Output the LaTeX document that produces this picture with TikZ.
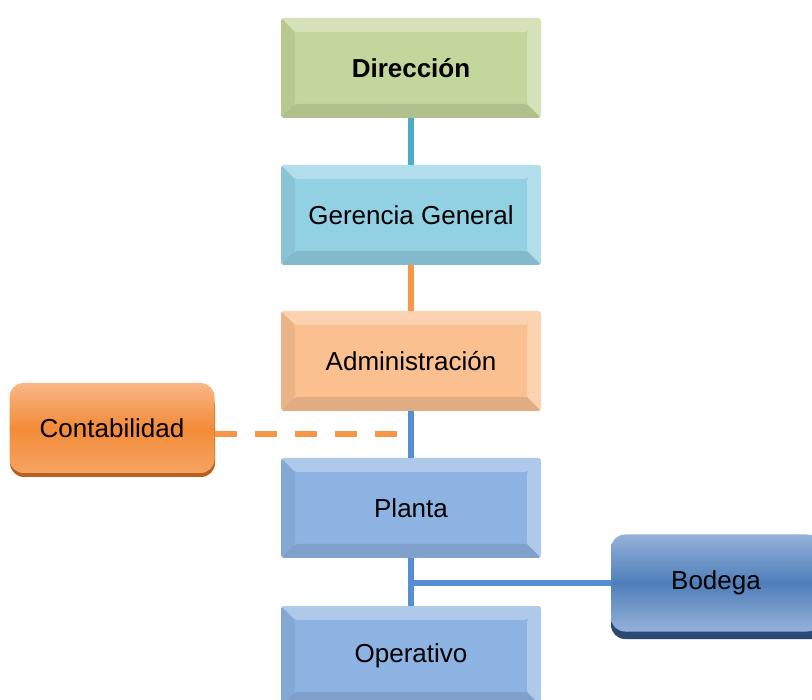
\documentclass[tikz,border=0pt]{standalone}
\usepackage{fontspec}
\setmainfont{Liberation Sans}
\usetikzlibrary{positioning,calc}
\definecolor{dirgreen}{HTML}{C3D69B}
\definecolor{gerblue}{HTML}{92D0E3}
\definecolor{admorange}{HTML}{FAC090}
\definecolor{plablue}{HTML}{8DB3E2}
\definecolor{lnteal}{HTML}{4BACC6}
\definecolor{lnorange}{HTML}{F79646}
\definecolor{lnblue}{HTML}{558ED5}
\definecolor{conttop}{HTML}{F9B787}
\definecolor{contmid}{HTML}{F28B38}
\definecolor{contbot}{HTML}{F6A463}
\definecolor{contdark}{HTML}{B9611C}
\definecolor{bodtop}{HTML}{94B2D8}
\definecolor{bodmid}{HTML}{4F7FBA}
\definecolor{boddark}{HTML}{294A72}
\tikzset{font=\fontsize{26}{30}\selectfont}
\tikzset{bevelbox/.style={rectangle,rounded corners=3pt,inner sep=0pt,
    minimum width=260pt,minimum height=100pt,fill=#1,
    path picture={
      \path (path picture bounding box.north west) coordinate (bnw)
            (path picture bounding box.north east) coordinate (bne)
            (path picture bounding box.south west) coordinate (bsw)
            (path picture bounding box.south east) coordinate (bse);
      \fill[white,opacity=.3] (bnw)--(bne)--($(bne)+(-14pt,-14pt)$)--($(bnw)+(14pt,-14pt)$)--cycle;
      \fill[white,opacity=.3] (bne)--(bse)--($(bse)+(-14pt,14pt)$)--($(bne)+(-14pt,-14pt)$)--cycle;
      \fill[black,opacity=.06] (bnw)--(bsw)--($(bsw)+(14pt,14pt)$)--($(bnw)+(14pt,-14pt)$)--cycle;
      \fill[black,opacity=.1] (bsw)--(bse)--($(bse)+(-14pt,14pt)$)--($(bsw)+(14pt,14pt)$)--cycle;
    }}}
\tikzset{sidebox/.style={rectangle,rounded corners=14pt,inner sep=0pt,
    minimum width=205pt,minimum height=90pt}}
\tikzset{link/.style={line width=6pt}}

\begin{document}
\begin{tikzpicture}[x=1pt,y=-1pt]
  \clip (0,0) rectangle (812,700);
  \node[bevelbox=dirgreen] (dir) at (411,68) {\textbf{Dirección}};
  \node[bevelbox=gerblue] (ger) at (411,215) {Gerencia General};
  \node[bevelbox=admorange] (adm) at (411,361) {Administración};
  \node[bevelbox=plablue] (pla) at (411,508) {Planta};
  \node[bevelbox=plablue] (ope) at (411,656) {Operativo};
  % side boxes, with a dark edge below
  \fill[contdark,rounded corners=14pt] (10,392) rectangle (215,477);
  \node[sidebox,top color=conttop,bottom color=contbot,middle color=contmid]
    (cont) at (112,428) {Contabilidad};
  \fill[boddark,rounded corners=14pt] (611,546) rectangle (830,639);
  \node[sidebox,minimum width=210pt,minimum height=97pt,top color=bodtop,
    bottom color=bodtop,middle color=bodmid]
    (bod) at (716,583) {Bodega};
  \draw[link,lnteal] (dir) -- (ger);
  \draw[link,lnorange] (ger) -- (adm);
  \draw[link,lnblue] (adm) -- (pla);
  \draw[link,lnblue] (pla) -- (ope);
  \coordinate (contj) at ($(cont.east -| adm.south)+(-2pt,-6pt)$);
  \draw[link,lnorange,dash pattern=on 22pt off 18pt] ([yshift=-6pt]cont.east) -- (contj);
  \coordinate (bodj) at (bod.west -| pla.south);
  \draw[link,lnblue] (bodj) -- (bod.west);
\end{tikzpicture}
\end{document}
